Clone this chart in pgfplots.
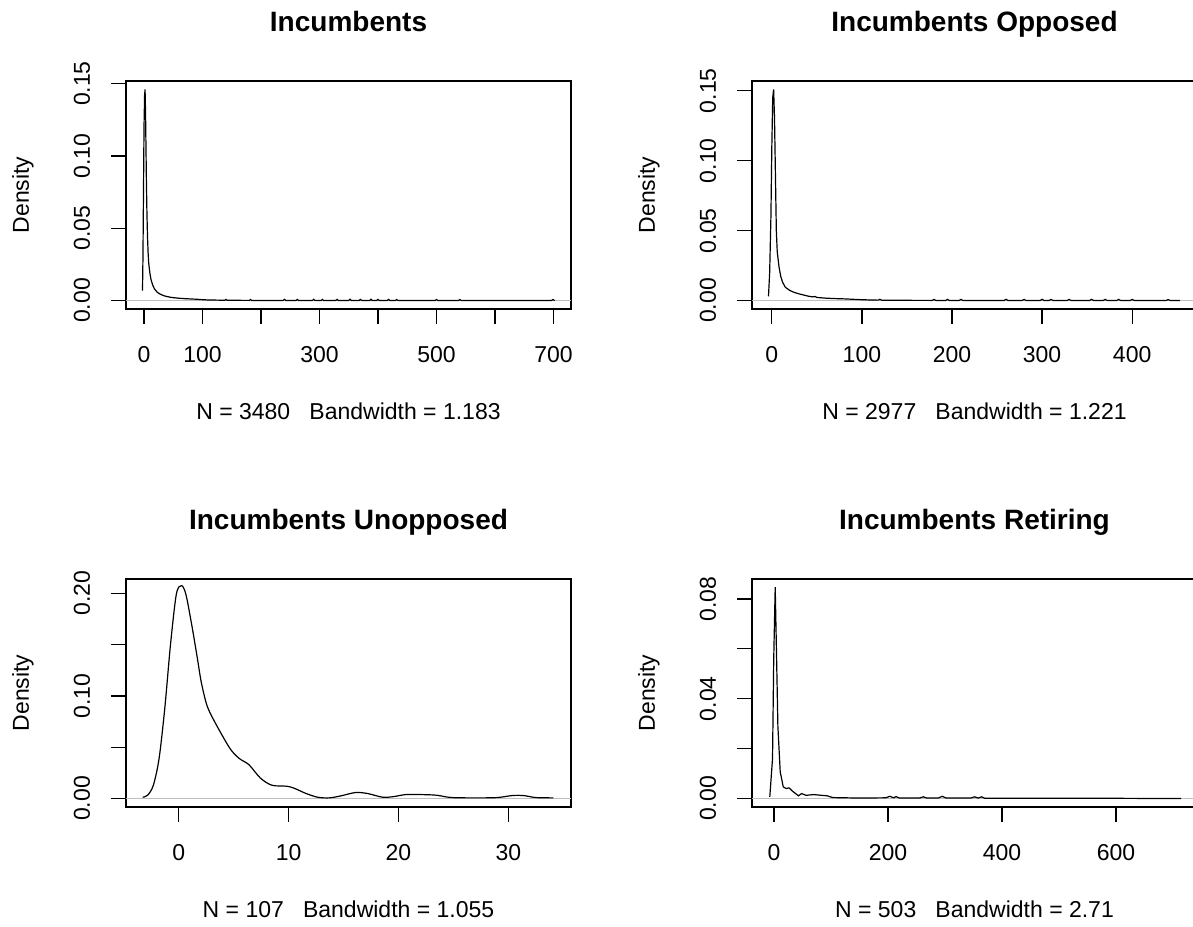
\documentclass[border=0pt]{standalone}
\usepackage{pgfplots}
\pgfplotsset{compat=1.18}
\usepackage{fontspec}
\setmainfont{Liberation Sans}
\definecolor{zeroline}{RGB}{190,190,190}

% one R-style density panel: 1px = 0.5pt, box 445x228 px
\pgfplotsset{
  rden/.style={
    scale only axis, width=222.5pt, height=114pt,
    axis line style={line width=0.6pt},
    every tick/.style={line width=0.6pt, black},
    major tick length=7.5pt,
    tick align=outside,
    xtick pos=bottom, ytick pos=left,
    scaled ticks=false,
    font=\fontsize{11.5}{13.8}\selectfont,
    xticklabel style={anchor=center},
    yticklabel style={rotate=90, anchor=center},
    xticklabel shift=15.5pt,
    yticklabel shift=14.5pt,
    every axis title shift=0pt,
    title style={at={(axis description cs:0.5,1.215)}, anchor=base,
      font=\bfseries\fontsize{14}{16.8}\selectfont},
    xlabel style={at={(axis description cs:0.5,-0.447)}, anchor=center},
    ylabel style={at={(axis description cs:-0.2315,0.5)}, anchor=center},
    ylabel={Density},
    clip=true,
  },
  zero/.style={zeroline, line width=0.5pt},
  dens/.style={black, line width=0.6pt},
}

\begin{document}
\begin{tikzpicture}
\useasboundingbox (0,0) rectangle (596.5pt,463pt);
\clip (0,0) rectangle (596.5pt,463pt);

% top left
\begin{axis}[rden, at={(63pt,308.5pt)}, anchor=south west,
  title={Incumbents}, xlabel={N = 3480\ \ \ Bandwidth = 1.183},
  xmin=-30.8, xmax=730, ymin=-0.00584, ymax=0.1518,
  xtick={0,100,...,700}, xticklabels={0,100,,300,,500,,700},
  ytick={0,0.05,0.10,0.15}, yticklabels={0.00,0.05,0.10,0.15}]
\addplot[zero] coordinates {(-40,0) (740,0)};
\addplot[dens] coordinates {
(-2.6,0.0068) (-1.8,0.03) (-1,0.07) (0,0.12) (1,0.142) (1.8,0.146) (2.6,0.13)
(3.3,0.108) (4,0.085) (5,0.06) (6,0.044) (7,0.033) (8,0.026) (10,0.019)
(12,0.0145) (15,0.0105) (18,0.008) (22,0.006) (26,0.0048) (30,0.004)
(35,0.0032) (40,0.0027) (45,0.0023) (50,0.002) (55,0.0018) (60,0.0016)
(70,0.0013) (80,0.0011) (90,0.0009) (100,0.0006) (110,0.0004) (125,0.0003)
(138,0.0002) (140,0.0008) (142,0.0002) (180,0.0001) (182,0.0007) (184,0.0001)
(238,0.0001) (240,0.0009) (242,0.0001) (260,0.0001) (262,0.0008) (264,0.0001)
(288,0.0001) (290,0.0009) (292,0.0001) (303,0.0001) (305,0.0008) (307,0.0001)
(328,0.0001) (330,0.0008) (332,0.0001) (350,0.0001) (352,0.0009) (354,0.0001)
(368,0.0001) (370,0.0008) (372,0.0001) (386,0.0001) (388,0.0009) (390,0.0001)
(398,0.0001) (400,0.0008) (402,0.0001) (416,0.0001) (418,0.0008) (420,0.0001)
(430,0.0001) (432,0.0007) (434,0.0001) (498,0.0001) (500,0.0007) (502,0.0001)
(538,0.0001) (540,0.0007) (542,0.0001) (697,0.0001) (699,0.0007) (702,0.0)
};
\end{axis}

% top right
\begin{axis}[rden, at={(376pt,308.5pt)}, anchor=south west,
  title={Incumbents Opposed}, xlabel={N = 2977\ \ \ Bandwidth = 1.221},
  xmin=-22, xmax=472, ymin=-0.00604, ymax=0.157,
  xtick={0,100,...,400}, xticklabels={0,100,200,300,400},
  ytick={0,0.05,0.10,0.15}, yticklabels={0.00,0.05,0.10,0.15}]
\addplot[zero] coordinates {(-30,0) (480,0)};
\addplot[dens] coordinates {
(-3.7,0.003) (-2.4,0.02) (-1,0.06) (0,0.11) (1,0.145) (2,0.151) (3,0.13)
(4,0.09) (5,0.05) (6,0.035) (8,0.024) (10,0.017) (12,0.013) (15,0.0095)
(20,0.0072) (25,0.0058) (30,0.0048) (35,0.004) (40,0.0032) (45,0.0026)
(48,0.0029) (50,0.0022) (60,0.0017) (70,0.0014) (80,0.0012) (90,0.0009)
(100,0.0006) (110,0.0004) (118,0.0003) (120,0.0009) (122,0.0002)
(178,0.0001) (180,0.0008) (182,0.0001) (193,0.0001) (195,0.0008) (197,0.0001)
(208,0.0001) (210,0.0008) (212,0.0001) (258,0.0001) (260,0.0009) (262,0.0001)
(278,0.0001) (280,0.0008) (282,0.0001) (298,0.0001) (300,0.0009) (302,0.0001)
(308,0.0001) (310,0.0008) (312,0.0001) (328,0.0001) (330,0.0008) (332,0.0001)
(353,0.0001) (355,0.0009) (357,0.0001) (368,0.0001) (370,0.0008) (372,0.0001)
(383,0.0001) (385,0.0008) (387,0.0001) (398,0.0001) (400,0.0008) (402,0.0001)
(438,0.0001) (440,0.0007) (442,0.0001) (453,0.0)
};
\end{axis}

% bottom left
\begin{axis}[rden, at={(63pt,59.5pt)}, anchor=south west,
  title={Incumbents Unopposed}, xlabel={N = 107\ \ \ Bandwidth = 1.055},
  xmin=-4.8, xmax=35.7, ymin=-0.0082, ymax=0.2139,
  xtick={0,10,20,30}, xticklabels={0,10,20,30},
  ytick={0,0.05,...,0.2}, yticklabels={0.00,,0.10,,0.20}]
\addplot[zero] coordinates {(-6,0) (37,0)};
\addplot[dens, smooth] coordinates {
(-3.28,0.0013) (-2.83,0.0033) (-2.31,0.013) (-1.79,0.039) (-1.27,0.088)
(-0.75,0.150) (-0.22,0.199) (0.25,0.2075) (0.65,0.199) (1.17,0.170)
(1.69,0.137) (2.04,0.114) (2.56,0.091) (3.26,0.075) (4.65,0.049)
(5.52,0.039) (6.39,0.033) (7.43,0.020) (8.48,0.013) (9.87,0.012)
(10.57,0.0098) (11.6,0.0049) (12.65,0.0013) (13.7,0.0007) (14.74,0.0026)
(16.1,0.0059) (17.2,0.0049) (18.57,0.0013) (19.6,0.002) (20.66,0.0039)
(22.04,0.0039) (23.44,0.0033) (24.83,0.001) (27.3,0.0007) (29.0,0.001)
(30.4,0.003) (31.4,0.0029) (32.5,0.001) (34.1,0.0007)
};
\end{axis}

% bottom right
\begin{axis}[rden, at={(376pt,59.5pt)}, anchor=south west,
  title={Incumbents Retiring}, xlabel={N = 503\ \ \ Bandwidth = 2.71},
  xmin=-38.6, xmax=742, ymin=-0.00338, ymax=0.088,
  xtick={0,200,400,600}, xticklabels={0,200,400,600},
  ytick={0,0.02,...,0.08}, yticklabels={0.00,,0.04,,0.08}]
\addplot[zero] coordinates {(-50,0) (760,0)};
\addplot[dens] coordinates {
(-7.4,0.0007) (-2.6,0.016) (-0.5,0.056) (2.1,0.0847) (4,0.0627) (6.8,0.029)
(10.9,0.0107) (16.2,0.0047) (21.5,0.004) (26.2,0.0043) (32.8,0.0029)
(42.9,0.0011) (48.3,0.002) (56.3,0.0013) (69.7,0.0016) (83.2,0.0013)
(93.2,0.0011) (103,0.0004) (150,0.0002) (196,0.0003) (203,0.0009) (210,0.0003)
(214,0.0008) (220,0.0002) (255,0.0002) (262,0.0007) (268,0.0002)
(288,0.0002) (295,0.0009) (302,0.0002) (345,0.0002) (352,0.0007) (358,0.0002)
(364,0.0007) (370,0.0001) (450,0.0001) (600,0.0001) (714,0.0)
};
\end{axis}
\end{tikzpicture}
\end{document}
